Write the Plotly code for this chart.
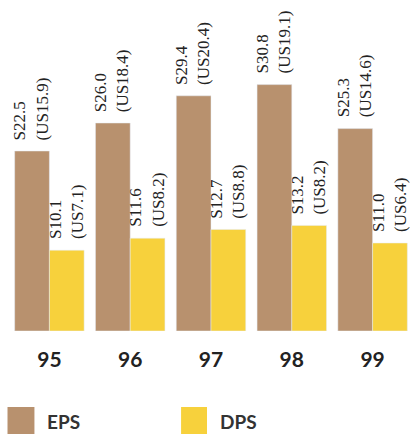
import plotly.graph_objects as go

years = ["95", "96", "97", "98", "99"]
eps_s = [22.5, 26.0, 29.4, 30.8, 25.3]
eps_us = [15.9, 18.4, 20.4, 19.1, 14.6]
dps_s = [10.1, 11.6, 12.7, 13.2, 11.0]
dps_us = [7.1, 8.2, 8.8, 8.2, 6.4]

EPS_COLOR = "#B8916E"
DPS_COLOR = "#F7D13C"
W, H = 419, 438
L, R, T, B = 8.5, 5.5, 0, 107
PW, PH = W - L - R, H - T - B
BARGAP = 0.14

def lab(s, u):
    return [f"S{a:.1f}<br>(US{b:.1f})" for a, b in zip(s, u)]

label_font = dict(family="Liberation Serif", size=17, color="#222")

fig = go.Figure()
fig.add_trace(go.Bar(x=years, y=eps_s, name="EPS", marker_color=EPS_COLOR))
fig.add_trace(go.Bar(x=years, y=dps_s, name="DPS", marker_color=DPS_COLOR))

def px(x):
    return (x - L) / PW

def py(y):
    return (H - B - y) / PH

cat_px = PW / len(years)
bar_px = cat_px * (1 - BARGAP) / 2

shapes = []
annotations = []
for vals, us, sign in [(eps_s, eps_us, -1), (dps_s, dps_us, 1)]:
    for i, (txt, v) in enumerate(zip(lab(vals, us), vals)):
        annotations.append(dict(x=i, y=v, xref="x", yref="y", text=txt, showarrow=False,
                                textangle=-90, align="left", xanchor="center", yanchor="bottom",
                                xshift=sign * bar_px / 2 - 1, yshift=9, font=label_font))

for (x0, x1, name, color, tx) in [(7, 34, "EPS", EPS_COLOR, 45), (181, 207, "DPS", DPS_COLOR, 218)]:
    shapes.append(dict(type="rect", xref="paper", yref="paper", x0=px(x0), x1=px(x1),
                       y0=py(434), y1=py(407), fillcolor=color, line_width=0))
    annotations.append(dict(xref="paper", yref="paper", x=px(tx), y=py(421), text=name,
                            showarrow=False, xanchor="left", yanchor="middle",
                            font=dict(family="Lato", size=19, color="#333", weight="bold")))

fig.update_layout(
    width=W, height=H, margin=dict(l=L, r=R, t=T, b=B, pad=0),
    paper_bgcolor="white", plot_bgcolor="white",
    barmode="group", bargap=BARGAP, bargroupgap=0,
    showlegend=False, shapes=shapes, annotations=annotations,
    xaxis=dict(type="category", range=[-0.5, len(years) - 0.5],
               showgrid=False, zeroline=False, showline=False, ticks="",
               ticklabelstandoff=14,
               tickfont=dict(family="Lato", size=21, color="#222", weight="bold")),
    yaxis=dict(range=[0, PH / 8.0], visible=False),
)
fig.write_html("out.html")
